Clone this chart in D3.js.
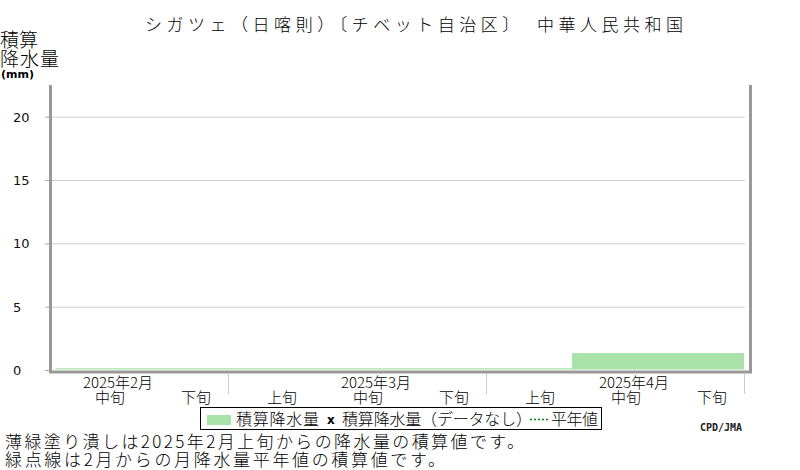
<!DOCTYPE html>
<html>
<head>
<meta charset="utf-8">
<script src="https://cdn.jsdelivr.net/npm/d3@7"></script>
<style>
  body { margin: 0; background: #fff; }
  text { font-family: "Noto Sans CJK JP", sans-serif; font-weight: 300; }
</style>
</head>
<body>
<script>
// dekads shown on the x axis (Feb mid .. Apr late)
var months = ["2025年2月", "2025年3月", "2025年4月"];
var dekadMonth = [0, 0, 1, 1, 1, 2, 2, 2];
var dekadLabel = ["中旬", "下旬", "上旬", "中旬", "下旬", "上旬", "中旬", "下旬"];
// cumulative precipitation (mm)
var precip = [0.1, 0.1, 0.1, 0.1, 0.1, 0.1, 1.3, 1.3];
var yTicks = [0, 5, 10, 15, 20];

var W = 800, H = 470;
var svg = d3.select("body").append("svg").attr("width", W).attr("height", H);

var x = d3.scaleBand().domain(d3.range(precip.length)).range([56, 744]).padding(0);
var y = d3.scaleLinear().domain([0, 22.5]).range([370, 85]);

// title
svg.append("text")
    .attr("x", 145).attr("y", 31)
    .attr("font-size", 17)
    .attr("textLength", 538).attr("lengthAdjust", "spacing")
    .text("シガツェ（日喀則）〔チベット自治区〕　中華人民共和国");

// y label
svg.append("text").attr("x", 0).attr("y", 47).attr("font-size", 19).text("積算");
svg.append("text").attr("x", 0).attr("y", 66).attr("font-size", 19)
    .attr("textLength", 59).attr("lengthAdjust", "spacing").text("降水量");
svg.append("text").attr("x", 1).attr("y", 78).attr("font-size", 11)
    .style("font-weight", "bold").style("font-family", "DejaVu Sans").text("(mm)");

// grid + y ticks
svg.selectAll(".grid").data(yTicks.filter(function(d){ return d > 0; }))
    .enter().append("line")
    .attr("x1", 52).attr("x2", 745)
    .attr("y1", function(d){ return y(d) + 0.5; }).attr("y2", function(d){ return y(d) + 0.5; })
    .attr("stroke", "#cccccc").attr("stroke-width", 1);

svg.selectAll(".ytick").data(yTicks).enter().append("line")
    .attr("x1", 45).attr("x2", 50)
    .attr("y1", function(d){ return y(d) + 0.5; }).attr("y2", function(d){ return y(d) + 0.5; })
    .attr("stroke", "#aaaaaa");

svg.selectAll(".ylab").data(yTicks).enter().append("text")
    .attr("x", 13).attr("y", function(d){ return y(d) + 5; })
    .attr("font-size", 13).style("font-family", "DejaVu Sans").style("font-weight", "normal")
    .attr("fill", "#111")
    .text(function(d){ return d; });

// bars
svg.selectAll(".bar").data(precip).enter().append("rect")
    .attr("x", function(d, i){ return x(i); })
    .attr("width", x.bandwidth())
    .attr("y", function(d){ return y(d) - 0.5; })
    .attr("height", function(d){ return y(0) - y(d); })
    .attr("fill", "#aae3aa");

// axes frame
svg.append("path")
    .attr("d", "M50.5,85 V372 H750.5 V85")
    .attr("fill", "none").attr("stroke", "#999999").attr("stroke-width", 3);

// month separators
var bounds = [];
for (var i = 1; i < dekadMonth.length; i++) {
    if (dekadMonth[i] != dekadMonth[i-1]) bounds.push(x(i));
}
bounds.push(x(dekadMonth.length - 1) + x.bandwidth());
svg.selectAll(".sep").data(bounds).enter().append("line")
    .attr("x1", function(d){ return d + 0.5; }).attr("x2", function(d){ return d + 0.5; })
    .attr("y1", 374).attr("y2", 394)
    .attr("stroke", "#cccccc");

// dekad labels
svg.selectAll(".dk").data(dekadLabel).enter().append("text")
    .attr("x", function(d, i){ return x(i) + x.bandwidth() / 2 + 11; })
    .attr("y", 403)
    .attr("text-anchor", "middle").attr("font-size", 15)
    .text(function(d){ return d; });

// month labels, over the 中旬 of each month
svg.selectAll(".mo").data(months).enter().append("text")
    .attr("x", function(d, m){
        var i = dekadMonth.findIndex(function(v, k){ return v == m && dekadLabel[k] == "中旬"; });
        return x(i) + x.bandwidth() / 2 + 19;
    })
    .attr("y", 388)
    .attr("text-anchor", "middle").attr("font-size", 15)
    .text(function(d){ return d; });

// legend
var lg = svg.append("g");
lg.append("rect").attr("x", 200.5).attr("y", 407.5).attr("width", 401).attr("height", 22)
    .attr("fill", "#fff").attr("stroke", "#000");
lg.append("rect").attr("x", 207).attr("y", 415).attr("width", 24).attr("height", 10).attr("fill", "#aae3aa");
lg.append("text").attr("x", 236).attr("y", 425).attr("font-size", 16)
    .attr("textLength", 83).attr("lengthAdjust", "spacing").text("積算降水量");
lg.append("text").attr("x", 327).attr("y", 424).attr("font-size", 12)
    .style("font-weight", "bold").style("font-family", "DejaVu Sans").text("x");
lg.append("text").attr("x", 342).attr("y", 425).attr("font-size", 16)
    .attr("textLength", 190).attr("lengthAdjust", "spacing").text("積算降水量（データなし）");
lg.append("line").attr("x1", 530).attr("x2", 548).attr("y1", 419.5).attr("y2", 419.5)
    .attr("stroke", "#008000").attr("stroke-width", 1.5).attr("stroke-dasharray", "2,2");
lg.append("text").attr("x", 551).attr("y", 425).attr("font-size", 16)
    .attr("textLength", 47).attr("lengthAdjust", "spacing").text("平年値");

svg.append("text").attr("x", 700).attr("y", 431).attr("font-size", 10)
    .style("font-weight", "bold").style("font-family", "DejaVu Sans Mono")
    .attr("fill", "#222").text("CPD/JMA");

// notes
svg.append("text").attr("x", 5).attr("y", 448).attr("font-size", 17)
    .attr("textLength", 519).attr("lengthAdjust", "spacing")
    .text("薄緑塗り潰しは2025年2月上旬からの降水量の積算値です。");
svg.append("text").attr("x", 5).attr("y", 466).attr("font-size", 17)
    .attr("textLength", 440).attr("lengthAdjust", "spacing")
    .text("緑点線は2月からの月降水量平年値の積算値です。");
</script>
</body>
</html>
